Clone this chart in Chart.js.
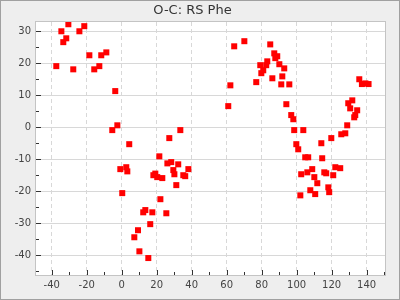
<!DOCTYPE html>
<html>
<head>
<meta charset="utf-8">
<title>O-C: RS Phe</title>
<script src="https://cdn.jsdelivr.net/npm/chart.js@4.4.0/dist/chart.umd.min.js"></script>
<style>
  body { margin: 0; background: #eeeeee; }
  canvas { display: block; }
</style>
</head>
<body>
<canvas id="ocChart" width="400" height="300"></canvas>
<script>
// cycle number E and O-C residual
const cycles = [
  -37.4, -34.5, -33.4, -31.7, -30.5, -27.7, -24.2, -21.4, -18.5, -15.7,
  -12.8, -11.7, -8.8, -5.4, -3.7, -2.5, -0.8, 0.3, 2.6, 3.2,
  4.3, 7.2, 9.3, 10.1, 12.3, 13.5, 15.2, 16.3, 17.5, 18.1,
  19.2, 20.3, 21.5, 22.1, 23.2, 25.5, 26.1, 27.2, 28.3, 29.5,
  30.1, 31.2, 32.3, 33.5, 35.2, 36.3, 38.1,
  60.9, 62.1, 64.3, 70.1, 76.9, 79.2, 79.8, 80.9, 82.6, 83.2,
  84.9, 86.1, 87.2, 87.8, 88.9, 90.1, 91.2, 91.8, 92.9, 94.1,
  95.8, 96.9, 98.1, 98.6, 99.8, 100.9, 102.1, 102.6, 103.8, 104.9,
  106.1, 106.6, 107.8, 108.9, 110.1, 110.6, 111.8, 114.1, 114.6, 115.8,
  116.9, 118.1, 118.6, 119.8, 120.9, 122.1, 124.9, 125.5, 127.8, 128.9,
  129.5, 130.6, 131.8, 132.9, 133.5, 134.6, 135.8, 137.3, 139.3, 141.1
];
const residuals = [
  19.1, 30.0, 26.6, 27.8, 32.2, 18.1, 30.0, 31.6, 22.5, 18.1,
  19.1, 22.5, 23.4, -0.9, 11.3, 0.6, -13.1, -20.6, -12.5, -13.8,
  -5.3, -34.4, -32.2, -38.8, -26.6, -25.9, -40.9, -30.3, -26.6, -15.0,
  -14.5, -15.6, -9.1, -22.5, -15.9, -26.9, -11.3, -3.4, -10.9, -13.4,
  -14.7, -18.1, -11.6, -0.9, -15.0, -15.3, -13.1,
  6.6, 13.1, 25.3, 26.9, 14.1, 19.4, 16.9, 17.8, 19.4, 20.6,
  25.9, 15.3, 23.1, 21.6, 22.2, 19.7, 13.4, 15.9, 18.4, 7.2,
  13.4, 3.8, 2.5, -0.9, -5.3, -6.9, -21.3, -14.7, -0.9, -9.4,
  -14.1, -9.4, -19.7, -13.1, -15.6, -20.9, -17.5, -5.0, -9.7, -14.1,
  -14.4, -18.8, -20.3, -3.4, -15.0, -12.5, -12.8, -2.2, -1.9, 0.6,
  7.5, 5.9, 8.4, 3.1, 3.8, 5.3, 15.0, 13.5, 13.7, 13.5
];

// axis ranges and tick spacing
const xMin = -49, xMax = 150.5, xStep = 20, xMinorStep = 10;
const yMin = -46.2, yMax = 32.9, yStep = 10, yMinorStep = 5;

const points = cycles.map((e, i) => ({ x: e, y: residuals[i] }));

// background, plot outline, inside tick marks and outer border
const framePlugin = {
  id: 'frame',
  beforeDraw(chart) {
    const { ctx, chartArea: a } = chart;
    ctx.save();
    ctx.fillStyle = '#eeeeee';
    ctx.fillRect(0, 0, chart.width, chart.height);
    ctx.fillStyle = '#ffffff';
    ctx.fillRect(a.left, a.top, a.right - a.left, a.bottom - a.top);
    ctx.restore();
  },
  afterDraw(chart) {
    const { ctx, chartArea: a, scales } = chart;
    ctx.save();
    ctx.strokeStyle = '#c4c4c4';
    ctx.lineWidth = 1;
    ctx.strokeRect(a.left - 0.5, a.top - 0.5, a.right - a.left + 1, a.bottom - a.top + 1);

    ctx.strokeStyle = '#333333';
    ctx.beginPath();
    for (let v = Math.ceil(xMin / xMinorStep) * xMinorStep; v <= xMax; v += xMinorStep) {
      const px = Math.round(scales.x.getPixelForValue(v)) + 0.5;
      const len = v % xStep === 0 ? 5 : 3;
      ctx.moveTo(px, a.bottom);
      ctx.lineTo(px, a.bottom - len);
    }
    for (let v = Math.ceil(yMin / yMinorStep) * yMinorStep; v <= yMax; v += yMinorStep) {
      const py = Math.round(scales.y.getPixelForValue(v)) + 0.5;
      const len = v % yStep === 0 ? 5 : 3;
      ctx.moveTo(a.left, py);
      ctx.lineTo(a.left + len, py);
    }
    ctx.stroke();

    ctx.strokeStyle = '#a0a0a0';
    ctx.strokeRect(0.5, 0.5, chart.width - 1, chart.height - 1);
    ctx.restore();
  }
};

const ctx = document.getElementById('ocChart').getContext('2d');
new Chart(ctx, {
  type: 'scatter',
  data: {
    datasets: [{
      label: 'O-C',
      data: points,
      pointStyle: 'rect',
      pointRadius: 4.25,
      pointHoverRadius: 4.25,
      borderWidth: 0,
      backgroundColor: '#ff0000',
      borderColor: '#ff0000'
    }]
  },
  options: {
    responsive: false,
    animation: false,
    devicePixelRatio: 1,
    layout: { padding: { left: 0, right: 15, top: 0, bottom: 0 } },
    plugins: {
      legend: { display: false },
      tooltip: { enabled: false },
      title: {
        display: true,
        text: 'O-C: RS Phe',
        color: '#333333',
        font: { family: 'DejaVu Sans', size: 13, weight: 'normal' },
        padding: { top: 3, bottom: 3.4 }
      }
    },
    scales: {
      x: {
        type: 'linear',
        min: xMin,
        max: xMax,
        afterFit: s => { s.height = 25; },
        ticks: {
          stepSize: xStep,
          includeBounds: false,
          maxRotation: 0,
          autoSkip: false,
          padding: 4,
          color: '#444444',
          font: { family: 'DejaVu Sans', size: 10 }
        },
        grid: { color: '#d8d8d8', drawTicks: false },
        border: { display: false, dash: [4, 3] }
      },
      y: {
        type: 'linear',
        min: yMin,
        max: yMax,
        afterFit: s => { s.width = 36; },
        ticks: {
          stepSize: yStep,
          includeBounds: false,
          padding: 5,
          color: '#444444',
          font: { family: 'DejaVu Sans', size: 10 }
        },
        grid: { color: '#d8d8d8', drawTicks: false },
        border: { display: false }
      }
    }
  },
  plugins: [framePlugin]
});
</script>
</body>
</html>
